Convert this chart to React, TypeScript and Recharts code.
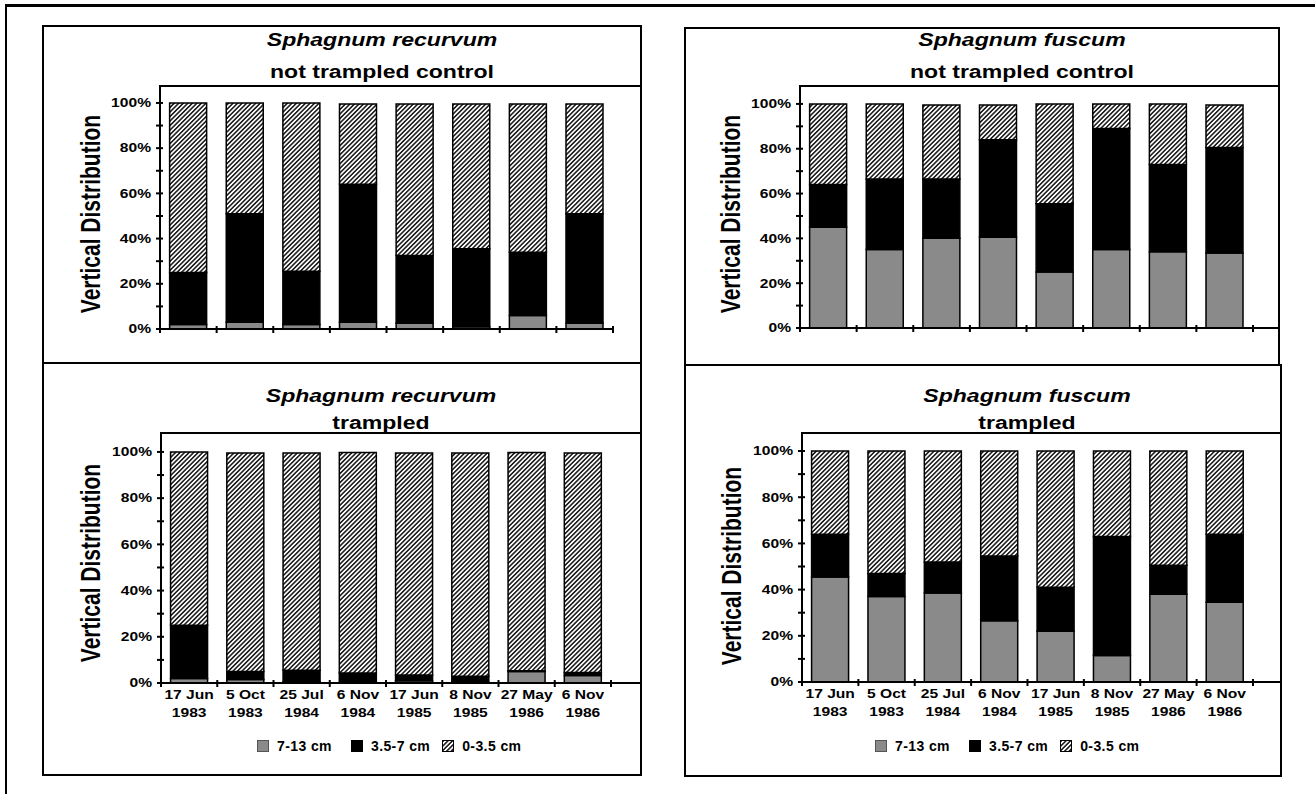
import React from "react";
import { BarChart, Bar, XAxis, YAxis, Legend } from "recharts";

const FONT = '"Liberation Sans", Arial, Helvetica, sans-serif';
const GRAY = "#8a8a8a";

const dates = [
  "17 Jun 1983",
  "5 Oct 1983",
  "25 Jul 1984",
  "6 Nov 1984",
  "17 Jun 1985",
  "8 Nov 1985",
  "27 May 1986",
  "6 Nov 1986",
];

const yTicks = [0, 10, 20, 30, 40, 50, 60, 70, 80, 90, 100];

// depth classes, bottom to top of each stack
const layerKeys = ["deep", "mid", "top"];
const layerNames = ["7-13 cm", "3.5-7 cm", "0-3.5 cm"];

// Sphagnum recurvum, not trampled control
const recurvumControlDeep = [2, 3, 2, 3, 2.5, 1, 6, 2.5];
const recurvumControlMid = [23, 48, 23.5, 61, 30, 34.5, 28, 48.5];
const recurvumControlTop = [75, 49, 74.5, 35.5, 67, 64, 65.5, 48.5];

// Sphagnum fuscum, not trampled control
const fuscumControlDeep = [45, 35, 40, 40.5, 25, 35, 34, 33.5];
const fuscumControlMid = [19, 31.5, 26.5, 43.5, 30.5, 54, 39, 47];
const fuscumControlTop = [36, 33.5, 33, 15.5, 44.5, 11, 27, 19];

// Sphagnum recurvum, trampled
const recurvumTrampledDeep = [2, 1.5, 0.5, 0.3, 1, 0.3, 5, 3.3];
const recurvumTrampledMid = [23, 3.5, 5, 4, 2.5, 2.6, 0.3, 1.2];
const recurvumTrampledTop = [75, 94.5, 94, 95.5, 96, 96.6, 94.5, 95];

// Sphagnum fuscum, trampled
const fuscumTrampledDeep = [45.5, 37, 38.5, 26.5, 22, 11.5, 38, 34.5];
const fuscumTrampledMid = [18.5, 10, 13.5, 28, 19, 51.5, 12.5, 29.5];
const fuscumTrampledTop = [36, 53, 48, 45.5, 59, 37, 49.5, 36];

const rows = (deep: number[], mid: number[], top: number[]) =>
  dates.map((date, i) => ({ date, deep: deep[i], mid: mid[i], top: top[i] }));

type PanelCfg = {
  id: string;
  species: string;
  treatment: string;
  data: { date: string; deep: number; mid: number; top: number }[];
  left: number;
  top: number;
  w: number;
  h: number;
  axisX: number;
  plotTop: number;
  bottom: number;
  right: number;
  padRight: number;
  yMax: number;
  step: number;
  titleX: number;
  titleY1: number;
  titleY2: number;
  labelX: number;
  labelY: number;
  showDates: boolean;
  legendX?: number;
  legendY?: number;
};

const panels: PanelCfg[] = [
  {
    id: "rc",
    species: "Sphagnum recurvum",
    treatment: "not trampled control",
    data: rows(recurvumControlDeep, recurvumControlMid, recurvumControlTop),
    left: 42, top: 25, w: 600, h: 339,
    axisX: 118, plotTop: 61, bottom: 35, right: 29, padRight: 0,
    yMax: 107.5, step: 56.6,
    titleX: 340, titleY1: 15, titleY2: 47,
    labelX: 48, labelY: 189,
    showDates: false,
  },
  {
    id: "fc",
    species: "Sphagnum fuscum",
    treatment: "not trampled control",
    data: rows(fuscumControlDeep, fuscumControlMid, fuscumControlTop),
    left: 684, top: 27, w: 596, h: 339,
    axisX: 116, plotTop: 59, bottom: 38, right: 0, padRight: 27,
    yMax: 108, step: 56.6,
    titleX: 338, titleY1: 13, titleY2: 45,
    labelX: 46, labelY: 187,
    showDates: false,
  },
  {
    id: "rt",
    species: "Sphagnum recurvum",
    treatment: "trampled",
    data: rows(recurvumTrampledDeep, recurvumTrampledMid, recurvumTrampledTop),
    left: 42, top: 362, w: 600, h: 414,
    axisX: 119, plotTop: 71, bottom: 93, right: 0, padRight: 31,
    yMax: 108.2, step: 56.25,
    titleX: 339, titleY1: 34, titleY2: 61,
    labelX: 48, labelY: 201,
    showDates: true,
    legendX: 215, legendY: 376,
  },
  {
    id: "ft",
    species: "Sphagnum fuscum",
    treatment: "trampled",
    data: rows(fuscumTrampledDeep, fuscumTrampledMid, fuscumTrampledTop),
    left: 684, top: 364, w: 598, h: 413,
    axisX: 118, plotTop: 69, bottom: 95, right: 0, padRight: 29,
    yMax: 107.8, step: 56.4,
    titleX: 343, titleY1: 32, titleY2: 59,
    labelX: 47, labelY: 202,
    showDates: true,
    legendX: 191, legendY: 374,
  },
];

const YTick = (props: any) => {
  const { x, y, payload } = props;
  const v = payload.value;
  return (
    <g>
      <line x1={x - 4} x2={x + 3} y1={y} y2={y} stroke="#000" strokeWidth={2} />
      {v % 20 === 0 && (
        <text
          transform={`translate(${x - 9},${y}) scale(1.3,1)`}
          textAnchor="end"
          dy="0.36em"
          fontSize={12}
          fontWeight="bold"
          fontFamily={FONT}
          fill="#000"
        >
          {v}%
        </text>
      )}
    </g>
  );
};

const makeXTick = (step: number, showDates: boolean, count: number) => (props: any) => {
  const { x, y, payload, index } = props;
  const text: string = String(payload.value);
  const cut = text.lastIndexOf(" ");
  const lines = [text.slice(0, cut), text.slice(cut + 1)];
  return (
    <g>
      <line x1={x - step / 2} x2={x - step / 2} y1={y - 3} y2={y + 4} stroke="#000" strokeWidth={2} />
      {index === count - 1 && (
        <line x1={x + step / 2} x2={x + step / 2} y1={y - 3} y2={y + 4} stroke="#000" strokeWidth={2} />
      )}
      {showDates &&
        lines.map((t, i) => (
          <text
            key={i}
            transform={`translate(${x},${y + 16 + i * 18}) scale(1.2,1)`}
            textAnchor="middle"
            fontSize={13}
            fontWeight="bold"
            fontFamily={FONT}
            fill="#000"
          >
            {t}
          </text>
        ))}
    </g>
  );
};

function Panel({ cfg }: { cfg: PanelCfg }) {
  const hatch = `hatch-${cfg.id}`;
  const fills: Record<string, string> = { deep: GRAY, mid: "#000", top: `url(#${hatch})` };
  const icons: Record<string, string> = { deep: "#555", mid: "#000", top: "#000" };

  const renderLegend = (props: any) => {
    const items = [...(props.payload || [])].sort(
      (a: any, b: any) => layerKeys.indexOf(a.dataKey) - layerKeys.indexOf(b.dataKey)
    );
    return (
      <div style={{ display: "flex", alignItems: "center", fontFamily: FONT, fontWeight: "bold", fontSize: 14 }}>
        {items.map((entry: any, i: number) => (
          <span key={i} style={{ display: "flex", alignItems: "center", marginRight: i === 0 ? 19 : 12 }}>
            <svg width={12} height={12}>
              <rect x={0.5} y={0.5} width={11} height={11} fill={fills[entry.dataKey]} stroke={icons[entry.dataKey]} />
            </svg>
            <span style={{ marginLeft: 8, letterSpacing: 0.4 }}>{entry.value}</span>
          </span>
        ))}
      </div>
    );
  };

  const titleStyle: React.CSSProperties = {
    position: "absolute",
    left: cfg.titleX,
    transform: "translate(-50%, -50%) scaleX(1.28)",
    whiteSpace: "nowrap",
    fontFamily: FONT,
    fontWeight: "bold",
    fontSize: 18,
    lineHeight: "20px",
  };

  return (
    <div style={{ position: "absolute", left: cfg.left, top: cfg.top, width: cfg.w, height: cfg.h }}>
      <div style={{ position: "absolute", left: 0, top: 0 }}>
        <BarChart
          width={cfg.w}
          height={cfg.h}
          data={cfg.data}
          margin={{ top: cfg.plotTop, right: cfg.right, bottom: cfg.bottom - 1, left: cfg.axisX - 1 }}
          barCategoryGap="17%"
        >
          <defs>
            <pattern id={hatch} width={3.2} height={3.2} patternUnits="userSpaceOnUse" patternTransform="rotate(45)">
              <rect width={3.2} height={3.2} fill="#fff" />
              <line x1={1.6} y1={0} x2={1.6} y2={3.2} stroke="#000" strokeWidth={1.4} />
            </pattern>
          </defs>
          {layerKeys.map((k, i) => (
            <Bar
              key={k}
              dataKey={k}
              name={layerNames[i]}
              stackId="depth"
              fill={fills[k]}
              stroke="#000"
              strokeWidth={1.5}
              isAnimationActive={false}
            />
          ))}
          <XAxis
            dataKey="date"
            interval={0}
            height={1}
            tickSize={0}
            tickMargin={0}
            tickLine={false}
            axisLine={{ stroke: "#000", strokeWidth: 2 }}
            padding={{ left: 0, right: cfg.padRight }}
            tick={makeXTick(cfg.step, cfg.showDates, cfg.data.length)}
          />
          <YAxis
            type="number"
            domain={[0, cfg.yMax]}
            ticks={yTicks}
            interval={0}
            width={1}
            tickSize={0}
            tickMargin={0}
            tickLine={false}
            allowDataOverflow
            axisLine={{ stroke: "#000", strokeWidth: 2 }}
            tick={<YTick />}
            label={{
              value: "Vertical Distribution",
              content: () => (
                <text
                  transform={`translate(${cfg.labelX},${cfg.labelY}) scale(1.3,1) rotate(-90)`}
                  textAnchor="middle"
                  dy="0.36em"
                  fontSize={21}
                  fontWeight="bold"
                  fontFamily={FONT}
                  fill="#000"
                >
                  Vertical Distribution
                </text>
              ),
            }}
          />
          {cfg.showDates && (
            <Legend
              layout="horizontal"
              verticalAlign="middle"
              align="center"
              content={renderLegend}
              wrapperStyle={{ left: cfg.legendX, top: cfg.legendY, width: "auto" }}
            />
          )}
        </BarChart>
      </div>
      <div
        style={{
          position: "absolute",
          left: cfg.axisX - 1,
          top: cfg.plotTop - 1,
          width: cfg.w - cfg.axisX + 1,
          height: 2,
          background: "#000",
        }}
      />
      <div style={{ ...titleStyle, top: cfg.titleY1, fontStyle: "italic" }}>{cfg.species}</div>
      <div style={{ ...titleStyle, top: cfg.titleY2 }}>{cfg.treatment}</div>
      <div
        style={{
          position: "absolute",
          inset: 0,
          border: "2px solid #000",
          boxSizing: "border-box",
          pointerEvents: "none",
        }}
      />
    </div>
  );
}

export default function App() {
  return (
    <div style={{ position: "absolute", left: 0, top: 0, width: 1315, height: 794, background: "#fff" }}>
      <div style={{ position: "absolute", left: 5, top: 4, width: 1310, height: 3, background: "#000" }} />
      <div style={{ position: "absolute", left: 5, top: 4, width: 2, height: 790, background: "#000" }} />
      {panels.map((p) => (
        <Panel key={p.id} cfg={p} />
      ))}
    </div>
  );
}
